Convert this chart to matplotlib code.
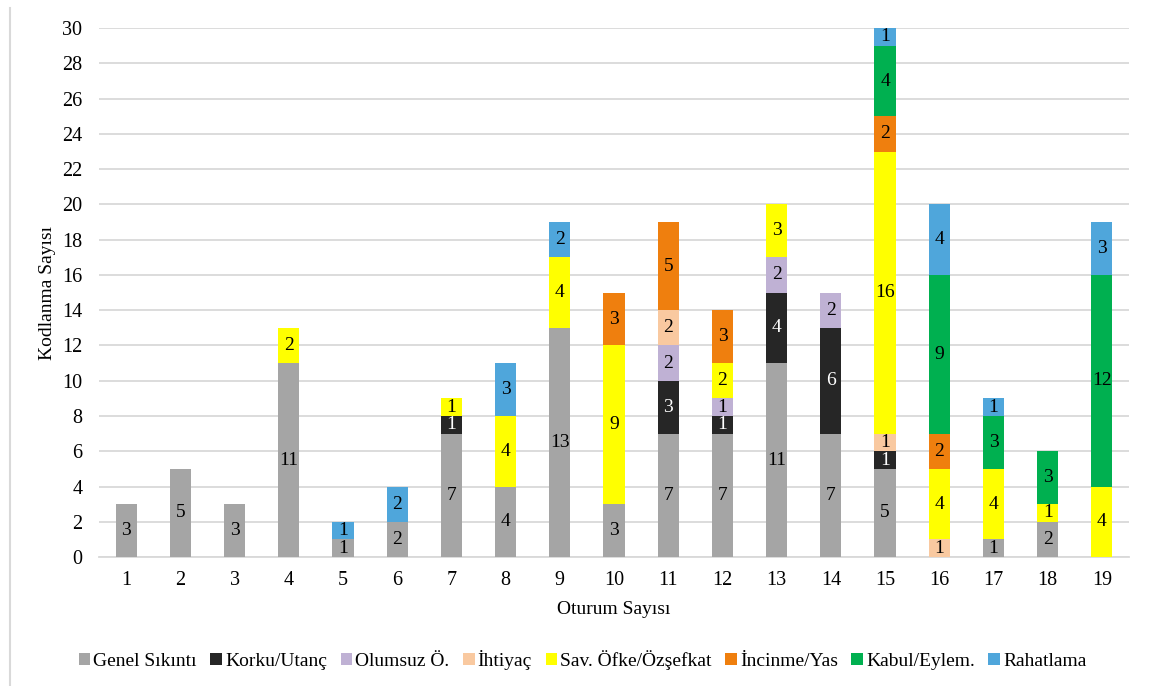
# -*- coding: utf-8 -*-
import numpy as np
import matplotlib
matplotlib.use('Agg')
import matplotlib.pyplot as plt
from matplotlib.lines import Line2D

plt.rcParams['font.family'] = ['Liberation Serif', 'DejaVu Serif']

# 数据
oturum = [str(i) for i in range(1, 20)]
genel_sikinti = [3, 5, 3, 11, 1, 2, 7, 4, 13, 3, 7, 7, 11, 7, 5, 0, 1, 2, 0]
korku_utanc   = [0, 0, 0, 0, 0, 0, 1, 0, 0, 0, 3, 1, 4, 6, 1, 0, 0, 0, 0]
olumsuz       = [0, 0, 0, 0, 0, 0, 0, 0, 0, 0, 2, 1, 2, 2, 0, 0, 0, 0, 0]
ihtiyac       = [0, 0, 0, 0, 0, 0, 0, 0, 0, 0, 2, 0, 0, 0, 1, 1, 0, 0, 0]
sav_ofke      = [0, 0, 0, 2, 0, 0, 1, 4, 4, 9, 0, 2, 3, 0, 16, 4, 4, 1, 4]
incinme_yas   = [0, 0, 0, 0, 0, 0, 0, 0, 0, 3, 5, 3, 0, 0, 2, 2, 0, 0, 0]
kabul_eylem   = [0, 0, 0, 0, 0, 0, 0, 0, 0, 0, 0, 0, 0, 0, 4, 9, 3, 3, 12]
rahatlama     = [0, 0, 0, 0, 1, 2, 0, 3, 2, 0, 0, 0, 0, 0, 1, 4, 1, 0, 3]

seriler = [
    ('Genel Sıkıntı', genel_sikinti, '#A5A5A5', 'black'),
    ('Korku/Utanç', korku_utanc, '#262626', 'white'),
    ('Olumsuz Ö.', olumsuz, '#BFB1D4', 'black'),
    ('İhtiyaç', ihtiyac, '#F9C9A0', 'black'),
    ('Sav. Öfke/Özşefkat', sav_ofke, '#FFFF00', 'black'),
    ('İncinme/Yas', incinme_yas, '#EF7F0E', 'black'),
    ('Kabul/Eylem.', kabul_eylem, '#00B050', 'black'),
    ('Rahatlama', rahatlama, '#4FA6DB', 'black'),
]

fig = plt.figure(figsize=(11.49, 6.86), dpi=100)
ax = fig.add_axes([0.0862, 0.188, 0.8964, 0.771])

x = np.arange(len(oturum))
alt = np.zeros(len(oturum))
for ad, deger, renk, yazi_renk in seriler:
    deger = np.array(deger)
    bars = ax.bar(x, deger, bottom=alt, width=0.39, color=renk, label=ad, zorder=3)
    etiket = [str(v) if v > 0 else '' for v in deger]
    ax.bar_label(bars, labels=etiket, label_type='center', color=yazi_renk, fontsize=14)
    alt += deger

ax.set_xlim(-0.5, len(oturum) - 0.5)
ax.set_ylim(0, 30)
ax.set_yticks(np.arange(0, 31, 2))
ax.set_xticks(x)
ax.set_xticklabels(oturum)
ax.tick_params(axis='both', length=0, labelsize=14.5)
ax.tick_params(axis='x', pad=10)
ax.tick_params(axis='y', pad=12)
ax.yaxis.grid(True, color='#D9D9D9', linewidth=1.3, zorder=0)
for s in ['top', 'right', 'left']:
    ax.spines[s].set_visible(False)
ax.spines['bottom'].set_color('#D9D9D9')
ax.spines['bottom'].set_linewidth(1.3)

ax.set_xlabel('Oturum Sayısı', fontsize=14)
ax.set_ylabel('Kodlanma Sayısı', fontsize=14)
ax.xaxis.set_label_coords(0.5, -0.083)
ax.yaxis.set_label_coords(-0.042, 0.5)

fig.legend(loc='center', bbox_to_anchor=(0.507, 0.038), ncol=8, frameon=False,
           fontsize=14, handlelength=0.6, handleheight=0.6, handletextpad=0.15,
           columnspacing=0.7)

# sol çerçeve çizgisi
fig.add_artist(Line2D([0.009, 0.009], [0, 0.988], transform=fig.transFigure,
                      color='#D9D9D9', linewidth=1.5))

fig.savefig('out.png', dpi=100)
